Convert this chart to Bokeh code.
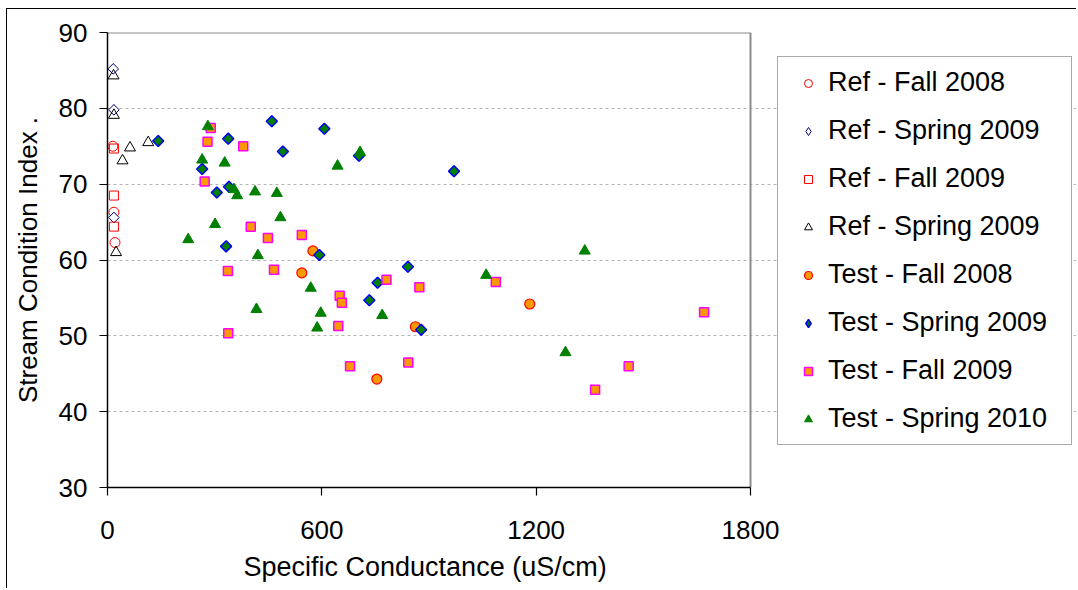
from bokeh.plotting import figure
from bokeh.models import Legend, LegendItem, FixedTicker, Range1d, Title
from bokeh.core.properties import value
from bokeh.embed import file_html
from bokeh.resources import INLINE
import numpy as np

FONT = "Liberation Sans"

# ---- data ----
ref_fall08_x = [15, 18, 21]
ref_fall08_y = [75.0, 66.3, 62.3]

ref_spr09_x = [16, 18, 18]
ref_spr09_y = [85.2, 79.8, 65.6]

ref_fall09_x = [18, 18, 18]
ref_fall09_y = [74.7, 68.5, 64.4]

ref_spr09b_x = [17, 18, 63, 42, 114, 24]
ref_spr09b_y = [84.3, 79.1, 74.8, 73.1, 75.5, 61.0]

test_fall08_x = [575, 544, 862, 1182, 754]
test_fall08_y = [61.2, 58.3, 51.2, 54.2, 44.3]

test_spr09_x = [142, 338, 460, 491, 265, 306, 340, 332, 607, 704, 593, 733, 970, 841, 756, 878]
test_spr09_y = [75.7, 76.0, 78.3, 74.3, 72.0, 68.9, 69.65, 61.8, 77.3, 73.75, 60.65, 54.7, 71.7, 59.1, 57.0, 50.8]

test_fall09_x = [289, 280, 380, 272, 401, 449, 337, 466, 544, 650, 656, 646, 679, 338, 781, 873, 1087, 842, 1670, 1459, 1365]
test_fall09_y = [77.4, 75.6, 75.0, 70.35, 64.4, 62.9, 58.55, 58.7, 63.3, 55.3, 54.35, 51.3, 46.0, 50.35, 57.4, 56.4, 57.1, 46.5, 53.1, 46.0, 42.9]

test_spr10_x = [281, 265, 328, 354, 363, 413, 474, 301, 484, 226, 421, 707, 644, 569, 597, 587, 417, 769, 1060, 1336, 1282]
test_spr10_y = [77.6, 73.2, 72.8, 69.3, 68.5, 69.0, 68.8, 64.7, 65.6, 62.7, 60.6, 74.2, 72.4, 56.3, 53.0, 51.05, 53.5, 52.7, 58.0, 61.2, 47.8]

x_min, x_max = 0, 1800
y_min, y_max = 30, 90
x_ticks = [0, 600, 1200, 1800]
y_ticks = [30, 40, 50, 60, 70, 80, 90]

labels = ["Ref - Fall 2008", "Ref - Spring 2009", "Ref - Fall 2009", "Ref - Spring 2009",
          "Test - Fall 2008", "Test - Spring 2009", "Test - Fall 2009", "Test - Spring 2010"]

# ---- layout geometry (pixels) ----
FIG_W, FIG_H = 1070, 580
PAD_L, PAD_T, PAD_B = 100, 23, 102
AREA_W = 643  # width of the plotting area that spans 0..1800
frame_w = FIG_W - PAD_L
x_end = x_max * frame_w / AREA_W  # extra frame room on the right holds the legend

p = figure(width=FIG_W, height=FIG_H, output_backend="svg", toolbar_location=None,
           x_range=Range1d(x_min, x_end), y_range=Range1d(y_min, y_max),
           min_border_left=PAD_L, min_border_right=0, min_border_top=PAD_T,
           min_border_bottom=PAD_B)
p.styles = {"position": "absolute", "left": "6px", "top": "8px",
            "border-left": "1px solid #000000", "border-top": "1px solid #000000"}

p.background_fill_color = "white"
p.border_fill_color = "white"
p.outline_line_color = None

p.xgrid.visible = False
p.ygrid.grid_line_color = "#b4b4b4"
p.ygrid.grid_line_dash = "3 3"
p.ygrid.grid_line_width = 1
p.ygrid.bounds = (x_min, x_max)

p.xaxis.ticker = FixedTicker(ticks=x_ticks)
p.yaxis.ticker = FixedTicker(ticks=y_ticks)
p.ygrid.ticker = FixedTicker(ticks=y_ticks[1:-1])
p.xaxis.bounds = (x_min, x_max)

for ax in (p.xaxis[0], p.yaxis[0]):
    ax.axis_line_color = "black"
    ax.axis_line_width = 1.5
    ax.major_tick_line_color = "black"
    ax.major_tick_line_width = 1.2
    ax.major_tick_in = 0
    ax.major_tick_out = 8
    ax.minor_tick_line_color = None
    ax.major_label_text_font = FONT
    ax.major_label_text_font_size = "26px"
    ax.major_label_text_color = "black"
    ax.axis_label_text_font = FONT
    ax.axis_label_text_font_size = "26px"
    ax.axis_label_text_font_style = "normal"
    ax.axis_label_text_color = "black"

p.yaxis.axis_label = "Stream Condition Index ."
p.xaxis.major_label_standoff = 25
p.yaxis.major_label_standoff = 12
p.yaxis.axis_label_standoff = 13

p.add_layout(Title(text="Specific Conductance (uS/cm)", align="left", offset=136,
                   standoff=16, text_font=FONT, text_font_size="27px",
                   text_font_style="normal", text_color="black"), "below")

# plotting-area border (top and right edges)
p.segment(x0=[x_min, x_max], y0=[y_max, y_min], x1=[x_max, x_max], y1=[y_max, y_max],
          line_color="#8c8c8c", line_width=2)

# Bokeh diamond markers (used as legend swatches), drawn under rotated squares
lg2 = p.scatter(ref_spr09_x, ref_spr09_y, marker="diamond", size=10, fill_color=None,
                line_color="#000080", line_width=1)
lg6 = p.scatter(test_spr09_x, test_spr09_y, marker="diamond", size=10,
                fill_color="#008000", line_color="#0000ff", line_width=1.5)

r1 = p.scatter(ref_fall08_x, ref_fall08_y, marker="circle", size=10,
               fill_color=None, line_color="#ff0000", line_width=1)
r2 = p.scatter(ref_spr09_x, ref_spr09_y, marker="square", angle=np.pi / 4, size=7.5,
               fill_color="white", line_color="#000080", line_width=1)
r3 = p.scatter(ref_fall09_x, ref_fall09_y, marker="square", size=9,
               fill_color=None, line_color="#ff0000", line_width=1)
r4 = p.scatter(ref_spr09b_x, ref_spr09b_y, marker="triangle", size=11,
               fill_color=None, line_color="#000000", line_width=1)
r5 = p.scatter(test_fall08_x, test_fall08_y, marker="circle", size=10,
               fill_color="#ff9900", line_color="#ff0000", line_width=1.2)
r6 = p.scatter(test_spr09_x, test_spr09_y, marker="square", angle=np.pi / 4, size=7.8,
               fill_color="#008000", line_color="#0000ff", line_width=1.5)
r7 = p.scatter(test_fall09_x, test_fall09_y, marker="square", size=9,
               fill_color="#ff9900", line_color="#ff00ff", line_width=1.5)
r8 = p.scatter(test_spr10_x, test_spr10_y, marker="triangle", size=11,
               fill_color="#008000", line_color="#008000", line_width=1)

legend_rends = [r1, lg2, r3, r4, r5, lg6, r7, r8]
items = [LegendItem(label=value(l), renderers=[r]) for l, r in zip(labels, legend_rends)]

legend = Legend(items=items, location=(670, 42), orientation="vertical",
                padding=10, spacing=17, margin=0,
                glyph_width=40, glyph_height=20, label_height=30, label_width=233,
                label_standoff=0,
                label_text_font=FONT, label_text_font_size="27px", label_text_color="black",
                border_line_color="#555555", border_line_width=1.5,
                background_fill_color="white", background_fill_alpha=1.0)
p.add_layout(legend, "center")

open("out.html", "w").write(file_html(p, INLINE))
